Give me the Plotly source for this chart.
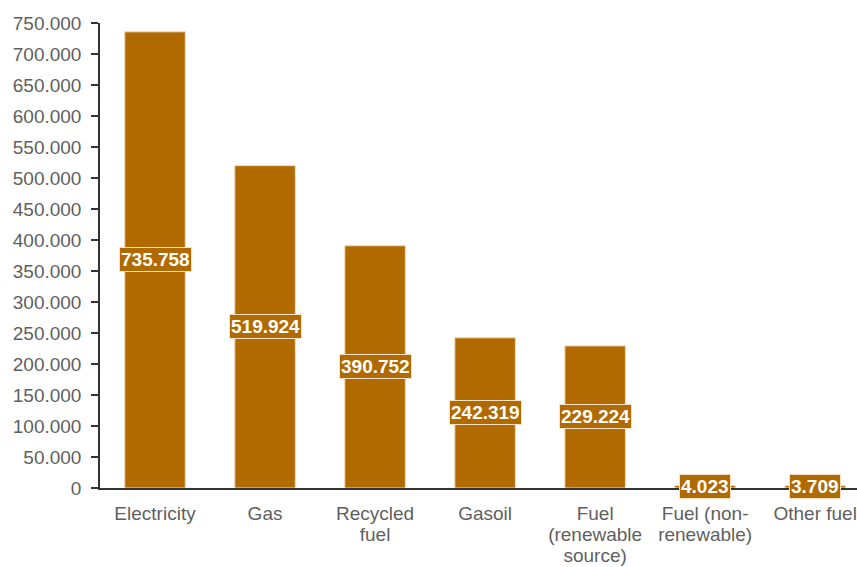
import plotly.graph_objects as go

categories = ["Electricity", "Gas", "Recycled<br>fuel", "Gasoil",
              "Fuel<br>(renewable<br>source)", "Fuel (non-<br>renewable)", "Other fuel"]
values = [735758, 519924, 390752, 242319, 229224, 4023, 3709]
y_ticks = list(range(0, 750001, 50000))

BAR = "#B06A00"
FONT = "Liberation Sans, Arial"

def fmt(v):
    return f"{v:,}".replace(",", ".")

# larger glyphs with tight line spacing
ticktext = ["<br>".join(f"<span style='font-size:19px'>{part}</span>"
                        for part in c.split("<br>")) for c in categories]

fig = go.Figure()
fig.add_trace(go.Bar(
    x=categories, y=values, width=0.55,
    marker=dict(color=BAR, line=dict(color="#F2D9B8", width=1)),
    hoverinfo="skip",
))

for c, v in zip(categories, values):
    fig.add_annotation(
        x=c, y=v / 2, xref="x", yref="y", text=f"<b>{fmt(v)}</b>",
        showarrow=False, font=dict(family=FONT, size=19, color="white"),
        bgcolor=BAR, bordercolor="#F5E1C6", borderwidth=1, borderpad=1,
    )

fig.update_layout(
    width=857, height=567,
    margin=dict(l=100, r=0, t=23, b=79),
    plot_bgcolor="white", paper_bgcolor="white",
    showlegend=False,
    separators=",.",
    font=dict(family=FONT, size=19, color="#5f5f5f"),
    xaxis=dict(
        range=[-0.5, 6.38], showline=True, linecolor="#333333", linewidth=1.5,
        ticks="", showgrid=False, ticklabelstandoff=11,
        tickvals=categories, ticktext=ticktext,
        tickfont=dict(size=16, color="#5f5f5f"),
    ),
    yaxis=dict(
        range=[0, 750000], tickvals=y_ticks, tickformat=",d",
        showline=True, linecolor="#333333", linewidth=1.5,
        ticks="outside", ticklen=7, tickcolor="#333333", tickwidth=1.5,
        showgrid=False, zeroline=False, ticklabelstandoff=6,
        tickfont=dict(size=19, color="#5f5f5f"),
    ),
)

fig.write_html("out.html")
